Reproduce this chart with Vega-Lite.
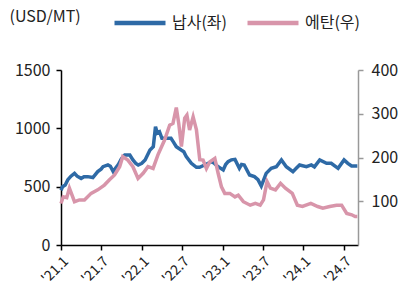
{
  "$schema": "https://vega.github.io/schema/vega-lite/v6.json",
  "width": 297,
  "height": 175,
  "autosize": {"type": "none"},
  "padding": {"left": 61, "top": 70, "right": 46, "bottom": 50},
  "background": "white",
  "config": {
    "font": "Noto Sans CJK KR",
    "view": {"stroke": null},
    "axis": {"grid": false, "labelFont": "Noto Sans CJK KR", "labelColor": "#222", "labelFontSize": 16, "tickSize": 5}
  },
  "data": {"values": [
    {"d": "2021-01-01", "s": "납사(좌)", "v": 470},
    {"d": "2021-01-08", "s": "납사(좌)", "v": 500},
    {"d": "2021-01-20", "s": "납사(좌)", "v": 514},
    {"d": "2021-02-01", "s": "납사(좌)", "v": 560},
    {"d": "2021-02-15", "s": "납사(좌)", "v": 590},
    {"d": "2021-03-03", "s": "납사(좌)", "v": 614},
    {"d": "2021-03-15", "s": "납사(좌)", "v": 590},
    {"d": "2021-04-02", "s": "납사(좌)", "v": 571},
    {"d": "2021-04-15", "s": "납사(좌)", "v": 585},
    {"d": "2021-05-02", "s": "납사(좌)", "v": 586},
    {"d": "2021-05-25", "s": "납사(좌)", "v": 578},
    {"d": "2021-06-16", "s": "납사(좌)", "v": 629},
    {"d": "2021-07-01", "s": "납사(좌)", "v": 650},
    {"d": "2021-07-10", "s": "납사(좌)", "v": 671},
    {"d": "2021-08-01", "s": "납사(좌)", "v": 686},
    {"d": "2021-08-12", "s": "납사(좌)", "v": 675},
    {"d": "2021-08-25", "s": "납사(좌)", "v": 629},
    {"d": "2021-09-05", "s": "납사(좌)", "v": 660},
    {"d": "2021-09-16", "s": "납사(좌)", "v": 686},
    {"d": "2021-10-01", "s": "납사(좌)", "v": 740},
    {"d": "2021-10-16", "s": "납사(좌)", "v": 771},
    {"d": "2021-11-08", "s": "납사(좌)", "v": 771},
    {"d": "2021-11-22", "s": "납사(좌)", "v": 729},
    {"d": "2021-12-05", "s": "납사(좌)", "v": 700},
    {"d": "2021-12-16", "s": "납사(좌)", "v": 686},
    {"d": "2022-01-01", "s": "납사(좌)", "v": 700},
    {"d": "2022-01-16", "s": "납사(좌)", "v": 729},
    {"d": "2022-02-07", "s": "납사(좌)", "v": 814},
    {"d": "2022-02-22", "s": "납사(좌)", "v": 843},
    {"d": "2022-03-04", "s": "납사(좌)", "v": 1014},
    {"d": "2022-03-12", "s": "납사(좌)", "v": 960},
    {"d": "2022-03-22", "s": "납사(좌)", "v": 971},
    {"d": "2022-04-02", "s": "납사(좌)", "v": 914},
    {"d": "2022-04-22", "s": "납사(좌)", "v": 914},
    {"d": "2022-05-13", "s": "납사(좌)", "v": 914},
    {"d": "2022-05-25", "s": "납사(좌)", "v": 880},
    {"d": "2022-06-06", "s": "납사(좌)", "v": 843},
    {"d": "2022-06-28", "s": "납사(좌)", "v": 814},
    {"d": "2022-07-10", "s": "납사(좌)", "v": 800},
    {"d": "2022-07-21", "s": "납사(좌)", "v": 757},
    {"d": "2022-08-13", "s": "납사(좌)", "v": 700},
    {"d": "2022-09-05", "s": "납사(좌)", "v": 666},
    {"d": "2022-09-19", "s": "납사(좌)", "v": 666},
    {"d": "2022-10-12", "s": "납사(좌)", "v": 686},
    {"d": "2022-11-12", "s": "납사(좌)", "v": 714},
    {"d": "2022-11-25", "s": "납사(좌)", "v": 700},
    {"d": "2022-12-12", "s": "납사(좌)", "v": 671},
    {"d": "2023-01-04", "s": "납사(좌)", "v": 643},
    {"d": "2023-01-15", "s": "납사(좌)", "v": 690},
    {"d": "2023-01-26", "s": "납사(좌)", "v": 714},
    {"d": "2023-02-10", "s": "납사(좌)", "v": 730},
    {"d": "2023-02-26", "s": "납사(좌)", "v": 734},
    {"d": "2023-03-18", "s": "납사(좌)", "v": 657},
    {"d": "2023-03-28", "s": "납사(좌)", "v": 690},
    {"d": "2023-04-09", "s": "납사(좌)", "v": 686},
    {"d": "2023-05-03", "s": "납사(좌)", "v": 600},
    {"d": "2023-05-25", "s": "납사(좌)", "v": 586},
    {"d": "2023-06-10", "s": "납사(좌)", "v": 560},
    {"d": "2023-06-25", "s": "납사(좌)", "v": 505},
    {"d": "2023-07-17", "s": "납사(좌)", "v": 614},
    {"d": "2023-08-09", "s": "납사(좌)", "v": 657},
    {"d": "2023-09-01", "s": "납사(좌)", "v": 671},
    {"d": "2023-09-24", "s": "납사(좌)", "v": 729},
    {"d": "2023-10-16", "s": "납사(좌)", "v": 671},
    {"d": "2023-11-15", "s": "납사(좌)", "v": 629},
    {"d": "2023-12-01", "s": "납사(좌)", "v": 660},
    {"d": "2023-12-15", "s": "납사(좌)", "v": 686},
    {"d": "2024-01-15", "s": "납사(좌)", "v": 671},
    {"d": "2024-02-06", "s": "납사(좌)", "v": 686},
    {"d": "2024-02-20", "s": "납사(좌)", "v": 670},
    {"d": "2024-03-15", "s": "납사(좌)", "v": 729},
    {"d": "2024-04-15", "s": "납사(좌)", "v": 700},
    {"d": "2024-05-06", "s": "납사(좌)", "v": 700},
    {"d": "2024-06-06", "s": "납사(좌)", "v": 657},
    {"d": "2024-07-03", "s": "납사(좌)", "v": 729},
    {"d": "2024-07-20", "s": "납사(좌)", "v": 700},
    {"d": "2024-08-06", "s": "납사(좌)", "v": 677},
    {"d": "2024-09-01", "s": "납사(좌)", "v": 677},
    {"d": "2021-01-01", "s": "에탄(우)", "v": 95},
    {"d": "2021-01-11", "s": "에탄(우)", "v": 110},
    {"d": "2021-01-27", "s": "에탄(우)", "v": 108},
    {"d": "2021-02-08", "s": "에탄(우)", "v": 130},
    {"d": "2021-03-03", "s": "에탄(우)", "v": 99},
    {"d": "2021-03-25", "s": "에탄(우)", "v": 103},
    {"d": "2021-04-17", "s": "에탄(우)", "v": 103},
    {"d": "2021-05-17", "s": "에탄(우)", "v": 118},
    {"d": "2021-06-16", "s": "에탄(우)", "v": 126},
    {"d": "2021-07-16", "s": "에탄(우)", "v": 137},
    {"d": "2021-08-08", "s": "에탄(우)", "v": 149},
    {"d": "2021-08-31", "s": "에탄(우)", "v": 160},
    {"d": "2021-09-23", "s": "에탄(우)", "v": 179},
    {"d": "2021-10-07", "s": "에탄(우)", "v": 202},
    {"d": "2021-10-30", "s": "에탄(우)", "v": 194},
    {"d": "2021-11-22", "s": "에탄(우)", "v": 179},
    {"d": "2021-12-15", "s": "에탄(우)", "v": 152},
    {"d": "2022-01-07", "s": "에탄(우)", "v": 164},
    {"d": "2022-01-29", "s": "에탄(우)", "v": 179},
    {"d": "2022-02-21", "s": "에탄(우)", "v": 175},
    {"d": "2022-03-15", "s": "에탄(우)", "v": 206},
    {"d": "2022-04-14", "s": "에탄(우)", "v": 240},
    {"d": "2022-05-07", "s": "에탄(우)", "v": 274},
    {"d": "2022-05-22", "s": "에탄(우)", "v": 278},
    {"d": "2022-06-06", "s": "에탄(우)", "v": 314},
    {"d": "2022-06-17", "s": "에탄(우)", "v": 278},
    {"d": "2022-06-29", "s": "에탄(우)", "v": 225},
    {"d": "2022-07-14", "s": "에탄(우)", "v": 290},
    {"d": "2022-07-24", "s": "에탄(우)", "v": 297},
    {"d": "2022-08-05", "s": "에탄(우)", "v": 263},
    {"d": "2022-08-21", "s": "에탄(우)", "v": 293},
    {"d": "2022-09-05", "s": "에탄(우)", "v": 263},
    {"d": "2022-09-20", "s": "에탄(우)", "v": 195},
    {"d": "2022-10-05", "s": "에탄(우)", "v": 194},
    {"d": "2022-10-20", "s": "에탄(우)", "v": 175},
    {"d": "2022-11-04", "s": "에탄(우)", "v": 190},
    {"d": "2022-11-27", "s": "에탄(우)", "v": 198},
    {"d": "2022-12-12", "s": "에탄(우)", "v": 164},
    {"d": "2022-12-27", "s": "에탄(우)", "v": 133},
    {"d": "2023-01-11", "s": "에탄(우)", "v": 118},
    {"d": "2023-02-03", "s": "에탄(우)", "v": 118},
    {"d": "2023-02-26", "s": "에탄(우)", "v": 110},
    {"d": "2023-03-13", "s": "에탄(우)", "v": 114},
    {"d": "2023-04-05", "s": "에탄(우)", "v": 99},
    {"d": "2023-05-06", "s": "에탄(우)", "v": 91},
    {"d": "2023-05-29", "s": "에탄(우)", "v": 95},
    {"d": "2023-06-20", "s": "에탄(우)", "v": 91},
    {"d": "2023-07-05", "s": "에탄(우)", "v": 103},
    {"d": "2023-07-21", "s": "에탄(우)", "v": 145},
    {"d": "2023-08-05", "s": "에탄(우)", "v": 130},
    {"d": "2023-08-28", "s": "에탄(우)", "v": 126},
    {"d": "2023-09-20", "s": "에탄(우)", "v": 141},
    {"d": "2023-10-12", "s": "에탄(우)", "v": 130},
    {"d": "2023-11-12", "s": "에탄(우)", "v": 118},
    {"d": "2023-12-05", "s": "에탄(우)", "v": 91},
    {"d": "2023-12-28", "s": "에탄(우)", "v": 88},
    {"d": "2024-02-04", "s": "에탄(우)", "v": 95},
    {"d": "2024-03-06", "s": "에탄(우)", "v": 88},
    {"d": "2024-03-29", "s": "에탄(우)", "v": 84},
    {"d": "2024-04-29", "s": "에탄(우)", "v": 88},
    {"d": "2024-05-30", "s": "에탄(우)", "v": 91},
    {"d": "2024-06-22", "s": "에탄(우)", "v": 91},
    {"d": "2024-07-15", "s": "에탄(우)", "v": 72},
    {"d": "2024-08-07", "s": "에탄(우)", "v": 69},
    {"d": "2024-08-22", "s": "에탄(우)", "v": 65},
    {"d": "2024-09-01", "s": "에탄(우)", "v": 65}
  ]},
  "encoding": {
    "x": {
      "field": "d", "type": "temporal",
      "scale": {"type": "utc", "domain": ["2021-01-01", "2024-09-04"]},
      "axis": {
        "title": null,
        "labelExpr": "utcFormat(datum.value, \"'%y.%-m\")",
        "values": [
          {"year": 2021, "month": 1, "date": 1, "utc": true},
          {"year": 2021, "month": 7, "date": 1, "utc": true},
          {"year": 2022, "month": 1, "date": 1, "utc": true},
          {"year": 2022, "month": 7, "date": 1, "utc": true},
          {"year": 2023, "month": 1, "date": 1, "utc": true},
          {"year": 2023, "month": 7, "date": 1, "utc": true},
          {"year": 2024, "month": 1, "date": 1, "utc": true},
          {"year": 2024, "month": 7, "date": 1, "utc": true}
        ],
        "labelAngle": -45,
        "labelAlign": "right",
        "labelBaseline": "top",
        "labelFontSize": 14,
        "labelPadding": 4,
        "labelOverlap": false,
        "domainColor": "#000",
        "domainWidth": 1.5,
        "tickColor": "#000",
        "tickWidth": 1.5
      }
    },
    "color": {
      "field": "s", "type": "nominal",
      "scale": {"domain": ["납사(좌)", "에탄(우)"], "range": ["#2E6AA6", "#D895AA"]},
      "legend": {
        "title": null,
        "orient": "none",
        "direction": "horizontal",
        "legendX": 51,
        "legendY": -75,
        "symbolType": "stroke",
        "symbolSize": 2600,
        "symbolStrokeWidth": 4.5,
        "labelFontSize": 16,
        "labelColor": "#222",
        "labelOffset": 4,
        "columnPadding": 11,
        "labelFont": "Noto Sans CJK KR"
      }
    }
  },
  "layer": [
    {
      "transform": [{"filter": "datum.s === '납사(좌)'"}],
      "mark": {"type": "line", "strokeWidth": 3.5, "interpolate": "linear"},
      "encoding": {
        "y": {
          "field": "v", "type": "quantitative",
          "scale": {"domain": [0, 1500], "nice": false},
          "axis": {
            "title": "(USD/MT)",
            "titleAngle": 0,
            "titleX": -52,
            "titleY": -54,
            "titleAlign": "left",
            "titleBaseline": "middle",
            "titleFontSize": 16,
            "titleFontWeight": "normal",
            "titleColor": "#222",
            "titleFont": "Noto Sans CJK KR",
            "values": [0, 500, 1000, 1500],
            "format": "d",
            "labelPadding": 6,
            "domainColor": "#000",
            "domainWidth": 1.5,
            "tickColor": "#000",
            "tickWidth": 1.5
          }
        }
      }
    },
    {
      "transform": [{"filter": "datum.s === '에탄(우)'"}],
      "mark": {"type": "line", "strokeWidth": 3.5, "interpolate": "linear"},
      "encoding": {
        "y": {
          "field": "v", "type": "quantitative",
          "scale": {"domain": [0, 400], "nice": false},
          "axis": {
            "orient": "right",
            "title": null,
            "values": [100, 200, 300, 400],
            "labelPadding": 8,
            "domainColor": "#999",
            "domainWidth": 1.5,
            "tickColor": "#999",
            "tickWidth": 1.5
          }
        }
      }
    }
  ],
  "resolve": {"scale": {"y": "independent"}}
}
